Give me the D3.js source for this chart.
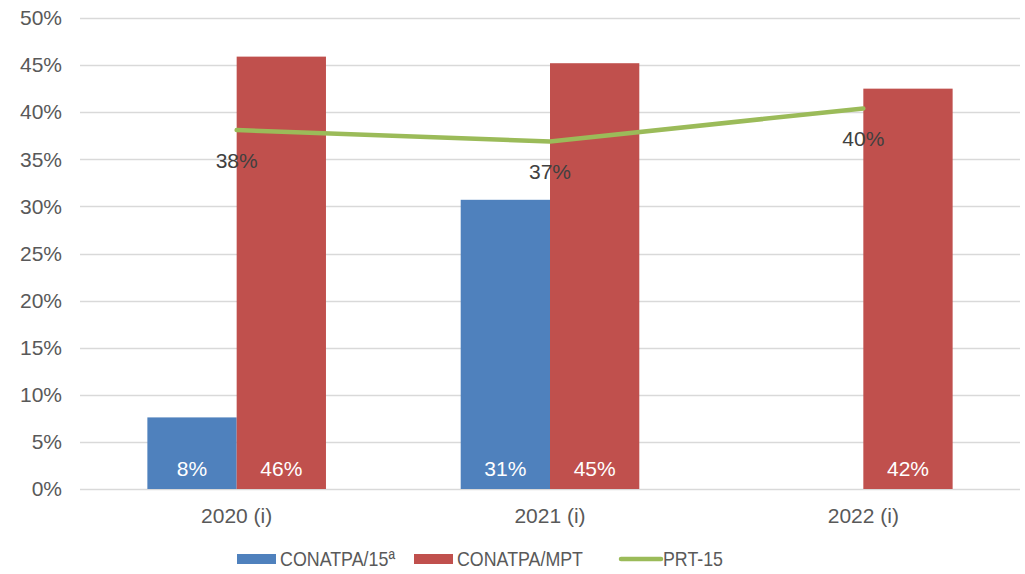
<!DOCTYPE html>
<html>
<head>
<meta charset="utf-8">
<script src="https://cdn.jsdelivr.net/npm/d3@7"></script>
<style>
  body { margin: 0; background: #fff; }
  svg { display: block; font-family: "Liberation Sans", Arial, sans-serif; }
</style>
</head>
<body>
<svg id="chart"></svg>
<script>
const categories = ['2020 (i)', '2021 (i)', '2022 (i)'];
const conatpa15 = [7.6, 30.7, null];
const conatpaMpt = [45.9, 45.2, 42.5];
const prt15 = [38.1, 36.9, 40.4];
const barLabels15 = ['8%', '31%', ''];
const barLabelsMpt = ['46%', '45%', '42%'];
const lineLabels = ['38%', '37%', '40%'];
const yTicks = [0, 5, 10, 15, 20, 25, 30, 35, 40, 45, 50];
const seriesNames = ['CONATPA/15ª', 'CONATPA/MPT', 'PRT-15'];

const width = 1025;
const height = 574;
const plotLeft = 80, plotRight = 1020, plotTop = 18, plotBottom = 489;
const fontSize = '21px';

const colors = { blue: '#4F81BD', red: '#C0504D', green: '#9BBB59' };

const svg = d3.select('#chart')
  .attr('width', width)
  .attr('height', height);

// scales
const x = d3.scaleBand()
  .domain(categories)
  .range([plotLeft, plotRight])
  .paddingInner(0)
  .paddingOuter(0);

const bandInner = x.bandwidth() * 0.57;
const x1 = d3.scaleBand()
  .domain([0, 1])
  .range([(x.bandwidth() - bandInner) / 2, (x.bandwidth() + bandInner) / 2]);

const y = d3.scaleLinear()
  .domain([0, 50])
  .range([plotBottom, plotTop]);

// gridlines
svg.append('g')
  .selectAll('line')
  .data(yTicks)
  .join('line')
  .attr('x1', plotLeft)
  .attr('x2', plotRight)
  .attr('y1', d => Math.round(y(d)) + 0.5)
  .attr('y2', d => Math.round(y(d)) + 0.5)
  .attr('stroke', '#D9D9D9')
  .attr('stroke-width', 1.3);

// y axis labels
const yAxis = d3.axisLeft(y)
  .tickValues(yTicks)
  .tickSize(0)
  .tickPadding(18)
  .tickFormat(d => d + '%');

svg.append('g')
  .attr('transform', `translate(${plotLeft}, 0)`)
  .call(yAxis)
  .call(g => g.select('.domain').remove())
  .selectAll('text')
  .attr('fill', '#595959')
  .style('font-size', fontSize);

// x axis labels
const xAxis = d3.axisBottom(x).tickSize(0).tickPadding(19);
svg.append('g')
  .attr('transform', `translate(0, ${plotBottom})`)
  .call(xAxis)
  .call(g => g.select('.domain').remove())
  .selectAll('text')
  .attr('fill', '#595959')
  .style('font-size', fontSize);

// bars
const groups = svg.append('g')
  .selectAll('g')
  .data(categories)
  .join('g')
  .attr('transform', d => `translate(${x(d)}, 0)`);

groups.each(function (c, i) {
  const g = d3.select(this);
  const vals = [conatpa15[i], conatpaMpt[i]];
  const labs = [barLabels15[i], barLabelsMpt[i]];
  const fills = [colors.blue, colors.red];
  vals.forEach((v, k) => {
    if (v == null) return;
    g.append('rect')
      .attr('x', x1(k))
      .attr('width', x1.bandwidth())
      .attr('y', y(v))
      .attr('height', y(0) - y(v))
      .attr('fill', fills[k]);
    g.append('text')
      .attr('x', x1(k) + x1.bandwidth() / 2)
      .attr('y', y(0) - 13)
      .attr('text-anchor', 'middle')
      .attr('fill', '#fff')
      .style('font-size', fontSize)
      .text(labs[k]);
  });
});

// line
const lx = d => x(d) + x.bandwidth() / 2;
const line = d3.line()
  .x((d, i) => lx(categories[i]))
  .y(d => y(d));

svg.append('path')
  .datum(prt15)
  .attr('d', line)
  .attr('fill', 'none')
  .attr('stroke', colors.green)
  .attr('stroke-width', 4.5)
  .attr('stroke-linecap', 'round')
  .attr('stroke-linejoin', 'round');

svg.append('g')
  .selectAll('text')
  .data(prt15)
  .join('text')
  .attr('x', (d, i) => lx(categories[i]))
  .attr('y', d => y(d) + 38)
  .attr('text-anchor', 'middle')
  .attr('fill', '#404040')
  .style('font-size', fontSize)
  .text((d, i) => lineLabels[i]);

// legend (narrow face in the original)
const legendY = 559;
const legendItems = [
  { name: seriesNames[0], color: colors.blue, type: 'rect', x: 237, w: 115 },
  { name: seriesNames[1], color: colors.red, type: 'rect', x: 414, w: 126 },
  { name: seriesNames[2], color: colors.green, type: 'line', x: 620, w: 60 }
];

const legend = svg.append('g');
legendItems.forEach(item => {
  const g = legend.append('g').attr('transform', `translate(${item.x}, ${legendY})`);
  if (item.type === 'rect') {
    g.append('rect')
      .attr('x', 0).attr('y', -5)
      .attr('width', 39).attr('height', 10)
      .attr('fill', item.color);
  } else {
    g.append('line')
      .attr('x1', 1).attr('x2', 41)
      .attr('y1', 0).attr('y2', 0)
      .attr('stroke', item.color)
      .attr('stroke-width', 4.5)
      .attr('stroke-linecap', 'round');
  }
  g.append('text')
    .attr('x', 43)
    .attr('y', 7)
    .attr('fill', '#595959')
    .attr('textLength', item.w)
    .attr('lengthAdjust', 'spacingAndGlyphs')
    .style('font-size', fontSize)
    .text(item.name);
});
</script>
</body>
</html>
